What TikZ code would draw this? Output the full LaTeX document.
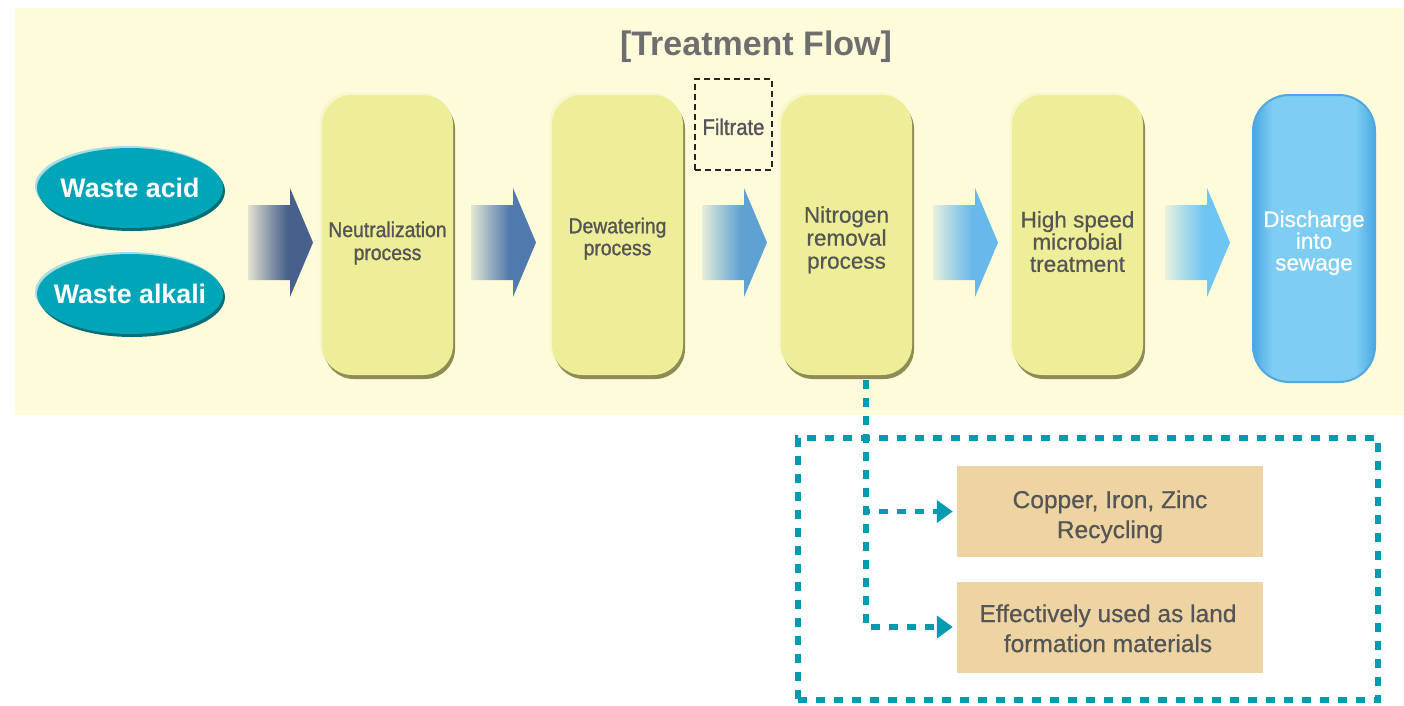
\documentclass[tikz,border=0pt]{standalone}
\usepackage{fontspec}
\setmainfont{Liberation Sans}
\newfontfamily\condf[FakeStretch=0.9,FakeBold=1.2]{Liberation Sans}
\newfontfamily\medf[FakeBold=0.6]{Liberation Sans}
\usetikzlibrary{shapes.geometric,arrows.meta,shadows,calc}
\definecolor{bgy}{HTML}{FEFBDB}
\definecolor{procy}{HTML}{EEEE99}
\definecolor{prochl}{HTML}{F8F6CC}
\definecolor{procsh}{HTML}{8F8B55}
\definecolor{tealc}{HTML}{009BB0}
\definecolor{ellc}{HTML}{00A6B8}
\definecolor{ellhl}{HTML}{A8DDE3}
\definecolor{ellsh}{HTML}{0A6C74}
\definecolor{tanc}{HTML}{EED4A3}
\definecolor{txtg}{HTML}{555555}
\definecolor{titg}{HTML}{6E6E6E}
\definecolor{dblue}{HTML}{3D9EDC}
\definecolor{lblue}{HTML}{7ECEF4}
\definecolor{ac1}{HTML}{48618C}
\definecolor{ac2}{HTML}{5079AD}
\definecolor{ac3}{HTML}{5EA2D4}
\definecolor{ac4}{HTML}{68B8EB}
\definecolor{ac5}{HTML}{6EC5F1}
\colorlet{arrc}{black}
\pgfdeclarehorizontalshading[arrc]{arrsh}{100bp}{color(0bp)=(bgy); color(25bp)=(bgy!85!arrc); color(40bp)=(arrc!60!bgy); color(55bp)=(arrc); color(100bp)=(arrc)}
\pgfdeclarehorizontalshading{blsh}{100bp}{color(0bp)=(dblue); color(25bp)=(dblue!80!lblue); color(33bp)=(lblue); color(67bp)=(lblue); color(75bp)=(dblue!80!lblue); color(100bp)=(dblue)}
\tikzset{
  proc/.style={rectangle, rounded corners=30pt, minimum width=131pt, minimum height=280pt,
    inner sep=0pt, fill=procy,
    general shadow={shadow xshift=-2.5pt, shadow yshift=2.5pt, fill=prochl},
    general shadow={shadow xshift=2pt, shadow yshift=-4pt, fill=procsh}},
  ptext/.style={align=center, text=txtg, inner sep=0pt},
  normtext/.style={ptext, font=\medf\fontsize{22.5pt}{23pt}\selectfont},
  condtext/.style={ptext, font=\condf\fontsize{21.5pt}{23pt}\selectfont},
  source/.style={ellipse, minimum width=186pt, minimum height=80pt, inner sep=0pt, fill=ellc,
    general shadow={shadow xshift=-2pt, shadow yshift=2pt, fill=ellhl},
    general shadow={shadow xshift=2pt, shadow yshift=-3pt, fill=ellsh}},
  srctext/.style={inner sep=0pt, text=white, font=\bfseries\fontsize{26.8pt}{30pt}\selectfont},
  tanbox/.style={rectangle, minimum width=306pt, minimum height=91pt, inner sep=0pt, fill=tanc},
  tantext/.style={align=center, text=txtg, inner sep=0pt, font=\medf\fontsize{24.5pt}{30pt}\selectfont},
  tdash/.style={draw=tealc, line width=5.5pt, dash pattern=on 9pt off 9pt},
  tarrow/.style={tdash, -{Triangle[length=16pt,width=22pt]}, shorten >=4pt},
  pics/barrow/.style={code={\colorlet{arrc}{#1}
    \shade[shading=arrsh] (0,-37.5) -- (42,-37.5) -- (42,-54.5) -- (65,0) -- (42,54.5) -- (42,37.5) -- (0,37.5) -- cycle;}}
}
\begin{document}
\begin{tikzpicture}[x=1pt,y=-1pt]
\useasboundingbox (0,0) rectangle (1404,705);
\fill[white] (0,0) rectangle (1404,705);
\fill[bgy] (15,8) rectangle (1404,415);

% title
\node[anchor=base, text=titg, inner sep=0pt, font=\bfseries\fontsize{34pt}{36pt}\selectfont] (title) at (756,55) {[Treatment Flow]};

% sources
\node[source] (acid) at (130,188) {};
\node[source] (alkali) at (130,294) {};
\node[srctext] (acidt) at (acid.center) {Waste acid};
\node[srctext] (alkalit) at (alkali.center) {Waste alkali};

% block arrows
\pic at (248,242.5) {barrow=ac1};
\pic at (471,242.5) {barrow=ac2};
\pic at (702,242.5) {barrow=ac3};
\pic at (933,242.5) {barrow=ac4};
\pic at (1165,242.5) {barrow=ac5};

% process boxes
\node[proc] (neu) at (387.5,235) {};
\node[proc] (dew) at (617.5,235) {};
\node[proc] (nit) at (846.5,235) {};
\node[proc] (hs) at (1077.5,235) {};
\node[rectangle, rounded corners=36pt, minimum width=122pt, minimum height=287pt, inner sep=0pt,
  shading=blsh, draw=dblue!90, line width=2pt] (dis) at (1314,238.5) {};

\node[condtext] (neut) at (387.5,243) {Neutralization\\process};
\node[condtext, font=\condf\fontsize{21.5pt}{22pt}\selectfont] (dewt) at (617.5,238.7) {Dewatering\\process};
\node[normtext] (nitt) at (846.5,239.8) {Nitrogen\\removal\\process};
\node[normtext, font=\medf\fontsize{22.5pt}{22.2pt}\selectfont] (hst) at (1077.5,241.6) {High speed\\microbial\\treatment};
\node[normtext, text=white, font=\medf\fontsize{22.5pt}{21.7pt}\selectfont] (dist) at (1314,242.9) {Discharge\\into\\sewage};

% filtrate
\node[draw=black!85, line width=1.3pt, dash pattern=on 6pt off 4pt, minimum width=77pt, minimum height=91pt,
  inner sep=0pt, text=txtg, font=\condf\fontsize{22.5pt}{24pt}\selectfont, text height=21pt] (filt) at (733.5,124.5) {Filtrate};

% lower frame and products
\node[tdash, rectangle, minimum width=580pt, minimum height=262pt, inner sep=0pt] (frame) at (1088,569) {};
\node[tanbox] (cu) at (1110,511.5) {};
\node[tanbox] (land) at (1110,627) {};
\node[tantext] (cut) at (1110,516.8) {Copper, Iron, Zinc\\Recycling};
\node[tantext] (landt) at (1108,628.3) {Effectively used as land\\formation materials};

\coordinate (nsplit) at (866,380);
\draw[tarrow] (nsplit) |- (cu.west);
\draw[tarrow] (nsplit) |- (land.west);
\end{tikzpicture}
\end{document}
